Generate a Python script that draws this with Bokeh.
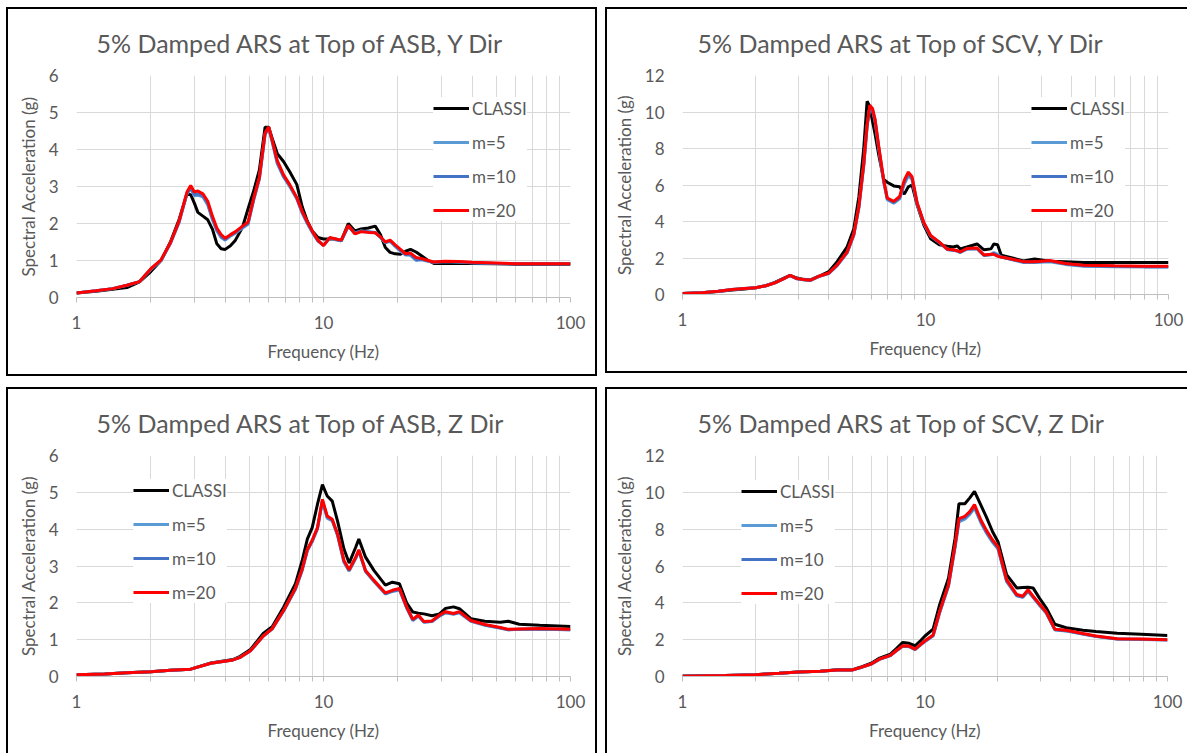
from bokeh.plotting import figure
from bokeh.models import Range1d, FixedTicker, Legend, LegendItem, PrintfTickFormatter
from bokeh.layouts import row, column
from bokeh.embed import file_html
from bokeh.resources import INLINE

# ---------------- data ----------------
series_names = ["CLASSI", "m=5", "m=10", "m=20"]

# Panel 1: ASB, Y Dir
f1 = [1.0, 1.2, 1.4, 1.6, 1.8, 2.0, 2.2, 2.4, 2.6, 2.8, 2.9, 3.0, 3.1, 3.25, 3.4, 3.55, 3.7, 3.85, 4.0, 4.2,
      4.4, 4.7, 4.95, 5.2, 5.5, 5.8, 6.0, 6.2, 6.5, 6.9, 7.3, 7.8, 8.2, 8.6, 9.0, 9.5, 10.0, 10.6, 11.2, 11.8,
      12.6, 13.4, 14.2, 15.2, 16.2, 17.0, 17.8, 18.6, 19.5, 20.5, 21.5, 22.5, 23.7, 25.0, 26.5, 28.0, 31.0,
      35.0, 40.0, 50.0, 60.0, 80.0, 100.0]
classi1 = [0.12, 0.17, 0.22, 0.27, 0.42, 0.70, 1.00, 1.50, 2.10, 2.80, 2.78, 2.55, 2.30, 2.20, 2.10, 1.85, 1.45,
           1.32, 1.30, 1.40, 1.55, 1.90, 2.40, 2.85, 3.45, 4.60, 4.60, 4.30, 3.89, 3.67, 3.40, 3.05, 2.45, 2.06,
           1.80, 1.62, 1.58, 1.58, 1.58, 1.53, 2.00, 1.80, 1.85, 1.88, 1.93, 1.70, 1.35, 1.22, 1.18, 1.17, 1.25,
           1.30, 1.23, 1.12, 1.00, 0.92, 0.92, 0.92, 0.92, 0.91, 0.90, 0.90, 0.90]
m5_1 = [0.12, 0.18, 0.24, 0.33, 0.43, 0.76, 1.00, 1.46, 2.02, 2.80, 2.95, 2.75, 2.76, 2.72, 2.50, 2.10, 1.80, 1.62,
        1.55, 1.66, 1.74, 1.88, 1.98, 2.60, 3.20, 4.40, 4.58, 4.20, 3.62, 3.25, 3.00, 2.66, 2.28, 2.00, 1.76, 1.52,
        1.42, 1.60, 1.56, 1.53, 1.92, 1.74, 1.80, 1.78, 1.76, 1.62, 1.48, 1.52, 1.38, 1.25, 1.15, 1.14, 1.00, 1.02,
        0.98, 0.95, 0.97, 0.96, 0.94, 0.92, 0.91, 0.91, 0.91]
m10_1 = [0.12, 0.18, 0.24, 0.33, 0.43, 0.77, 1.01, 1.47, 2.04, 2.82, 2.98, 2.78, 2.80, 2.75, 2.54, 2.14, 1.83, 1.65,
         1.57, 1.68, 1.76, 1.90, 2.00, 2.62, 3.22, 4.42, 4.60, 4.22, 3.65, 3.27, 3.02, 2.68, 2.30, 2.02, 1.78, 1.53,
         1.41, 1.61, 1.57, 1.54, 1.93, 1.73, 1.79, 1.77, 1.75, 1.63, 1.49, 1.53, 1.40, 1.27, 1.16, 1.16, 1.03, 1.03,
         0.99, 0.95, 0.97, 0.96, 0.94, 0.92, 0.91, 0.91, 0.91]
m20_1 = [0.12, 0.18, 0.24, 0.33, 0.43, 0.78, 1.02, 1.48, 2.06, 2.85, 3.03, 2.85, 2.88, 2.80, 2.60, 2.20, 1.88, 1.70,
         1.60, 1.70, 1.78, 1.93, 2.04, 2.65, 3.25, 4.45, 4.61, 4.25, 3.70, 3.31, 3.05, 2.70, 2.33, 2.05, 1.80, 1.55,
         1.40, 1.62, 1.58, 1.55, 1.95, 1.72, 1.78, 1.76, 1.75, 1.64, 1.50, 1.55, 1.42, 1.30, 1.18, 1.20, 1.08, 1.05,
         1.00, 0.96, 0.98, 0.97, 0.95, 0.93, 0.91, 0.91, 0.91]

# Panel 2: SCV, Y Dir
f2 = [1.0, 1.2, 1.4, 1.6, 1.8, 2.0, 2.2, 2.4, 2.6, 2.77, 2.96, 3.15, 3.36, 3.64, 4.0, 4.33, 4.76, 5.07, 5.32, 5.57,
      5.75, 5.9, 6.05, 6.2, 6.43, 6.73, 6.96, 7.4, 7.83, 8.18, 8.5, 8.8, 9.24, 9.84, 10.5, 11.4, 12.3, 13.0, 13.5,
      13.9, 14.8, 16.3, 17.4, 18.6, 19.1, 19.8, 20.5, 22.8, 25.3, 28.1, 32.5, 37.6, 44.8, 60.0, 80.0, 100.0]
classi2 = [0.05, 0.10, 0.17, 0.25, 0.30, 0.37, 0.48, 0.66, 0.88, 1.05, 0.90, 0.83, 0.80, 1.00, 1.25, 1.80, 2.61,
           3.60, 5.36, 8.00, 10.59, 10.30, 9.50, 8.80, 7.60, 6.30, 6.15, 5.95, 5.90, 5.50, 5.90, 6.00, 4.90, 3.80,
           3.05, 2.72, 2.65, 2.60, 2.66, 2.50, 2.60, 2.77, 2.45, 2.50, 2.77, 2.73, 2.15, 2.00, 1.84, 1.95, 1.82,
           1.80, 1.75, 1.75, 1.75, 1.75]
m5_2 = [0.05, 0.10, 0.18, 0.27, 0.33, 0.37, 0.48, 0.64, 0.85, 1.03, 0.86, 0.81, 0.77, 0.98, 1.15, 1.58, 2.28, 3.25,
        4.75, 7.05, 9.20, 10.25, 10.10, 9.50, 7.95, 6.15, 5.20, 5.00, 5.25, 6.05, 6.50, 6.30, 4.95, 3.90, 3.20, 2.85,
        2.46, 2.42, 2.38, 2.30, 2.48, 2.50, 2.14, 2.18, 2.30, 2.20, 2.05, 1.90, 1.75, 1.75, 1.80, 1.65, 1.55, 1.52,
        1.50, 1.50]
m10_2 = [0.05, 0.10, 0.18, 0.27, 0.33, 0.37, 0.48, 0.64, 0.85, 1.04, 0.86, 0.81, 0.77, 0.99, 1.16, 1.60, 2.30, 3.28,
         4.80, 7.10, 9.25, 10.30, 10.15, 9.55, 8.00, 6.20, 5.25, 5.05, 5.30, 6.15, 6.60, 6.38, 5.00, 3.92, 3.21, 2.86,
         2.47, 2.43, 2.39, 2.32, 2.50, 2.52, 2.15, 2.19, 2.25, 2.15, 2.05, 1.92, 1.78, 1.78, 1.83, 1.68, 1.58, 1.55,
         1.53, 1.53]
m20_2 = [0.05, 0.10, 0.18, 0.27, 0.33, 0.37, 0.48, 0.64, 0.85, 1.05, 0.87, 0.82, 0.78, 1.00, 1.18, 1.62, 2.34, 3.32,
         4.84, 7.16, 9.30, 10.37, 10.20, 9.60, 8.05, 6.27, 5.29, 5.10, 5.37, 6.27, 6.71, 6.45, 5.02, 3.95, 3.23, 2.87,
         2.48, 2.45, 2.40, 2.34, 2.52, 2.55, 2.16, 2.20, 2.20, 2.10, 2.05, 1.93, 1.80, 1.80, 1.86, 1.70, 1.60, 1.57,
         1.55, 1.55]

# Panel 3: ASB, Z Dir
f3 = [1.0, 1.3, 1.6, 2.0, 2.4, 2.9, 3.5, 4.3, 4.6, 5.06, 5.7, 6.2, 6.9, 7.7, 8.2, 8.6, 9.0, 9.45, 9.9, 10.35, 10.85,
      11.4, 12.1, 12.7, 13.5, 13.9, 14.8, 16.0, 17.8, 19.0, 20.3, 21.7, 23.0, 24.2, 25.5, 27.5, 29.5, 31.2, 33.6,
      35.5, 39.5, 45.0, 52.0, 56.0, 62.0, 75.0, 100.0]
classi3 = [0.05, 0.07, 0.10, 0.13, 0.17, 0.20, 0.37, 0.46, 0.55, 0.73, 1.17, 1.35, 1.89, 2.52, 3.15, 3.73, 4.04,
           4.67, 5.21, 4.90, 4.76, 4.22, 3.46, 3.08, 3.51, 3.73, 3.24, 2.88, 2.48, 2.56, 2.52, 2.00, 1.75, 1.72,
           1.70, 1.65, 1.70, 1.85, 1.89, 1.84, 1.57, 1.50, 1.47, 1.50, 1.42, 1.39, 1.36]
m5_3 = [0.05, 0.07, 0.10, 0.13, 0.17, 0.20, 0.36, 0.45, 0.52, 0.69, 1.09, 1.29, 1.78, 2.37, 2.88, 3.41, 3.66, 4.00,
        4.75, 4.30, 4.22, 3.83, 3.10, 2.86, 3.20, 3.40, 2.85, 2.58, 2.24, 2.31, 2.35, 1.86, 1.52, 1.64, 1.47, 1.49,
        1.64, 1.73, 1.69, 1.73, 1.50, 1.39, 1.31, 1.27, 1.28, 1.28, 1.27]
m10_3 = [0.05, 0.07, 0.10, 0.13, 0.17, 0.20, 0.36, 0.45, 0.52, 0.70, 1.10, 1.30, 1.79, 2.38, 2.90, 3.43, 3.68, 4.02,
         4.78, 4.33, 4.25, 3.85, 3.12, 2.88, 3.22, 3.42, 2.86, 2.60, 2.25, 2.32, 2.37, 1.88, 1.53, 1.65, 1.48, 1.50,
         1.65, 1.74, 1.70, 1.74, 1.51, 1.40, 1.32, 1.27, 1.28, 1.29, 1.27]
m20_3 = [0.05, 0.07, 0.10, 0.13, 0.17, 0.20, 0.36, 0.45, 0.52, 0.70, 1.10, 1.30, 1.80, 2.40, 2.92, 3.45, 3.70, 4.04,
         4.81, 4.36, 4.27, 3.87, 3.15, 2.90, 3.24, 3.44, 2.88, 2.61, 2.27, 2.34, 2.39, 1.89, 1.55, 1.67, 1.49, 1.51,
         1.67, 1.76, 1.71, 1.76, 1.52, 1.41, 1.33, 1.28, 1.29, 1.30, 1.28]

# Panel 4: SCV, Z Dir
f4 = [1.0, 1.5, 2.0, 2.5, 3.0, 3.7, 4.33, 5.0, 5.4, 6.0, 6.5, 7.2, 7.6, 8.1, 8.6, 9.1, 9.6, 10.0, 10.8, 11.5, 12.5,
      13.3, 13.8, 14.6, 15.3, 16.0, 17.0, 17.9, 19.0, 20.0, 21.7, 23.9, 25.3, 26.6, 27.9, 29.6, 31.6, 34.3, 38.2,
      44.8, 50.7, 62.0, 78.0, 100.0]
classi4 = [0.03, 0.06, 0.10, 0.18, 0.25, 0.29, 0.36, 0.36, 0.50, 0.72, 1.00, 1.22, 1.50, 1.85, 1.80, 1.67, 1.95,
           2.20, 2.57, 3.91, 5.34, 7.50, 9.38, 9.38, 9.70, 10.05, 9.30, 8.67, 7.86, 7.32, 5.53, 4.81, 4.83, 4.84,
           4.81, 4.27, 3.73, 2.84, 2.65, 2.51, 2.44, 2.35, 2.30, 2.22]
m5_4 = [0.02, 0.06, 0.10, 0.17, 0.24, 0.28, 0.35, 0.35, 0.47, 0.67, 0.93, 1.13, 1.38, 1.64, 1.62, 1.46, 1.72, 1.90,
        2.20, 3.48, 4.90, 7.00, 8.40, 8.55, 8.80, 9.15, 8.35, 7.80, 7.28, 6.92, 5.15, 4.38, 4.30, 4.62, 4.30, 3.88,
        3.45, 2.53, 2.47, 2.30, 2.17, 2.03, 2.01, 1.98]
m10_4 = [0.02, 0.06, 0.10, 0.17, 0.24, 0.28, 0.35, 0.35, 0.47, 0.67, 0.94, 1.14, 1.39, 1.65, 1.63, 1.47, 1.73, 1.92,
         2.22, 3.50, 4.94, 7.05, 8.48, 8.62, 8.87, 9.22, 8.42, 7.86, 7.33, 6.98, 5.20, 4.40, 4.32, 4.66, 4.32, 3.90,
         3.48, 2.55, 2.49, 2.31, 2.18, 2.04, 2.02, 1.99]
m20_4 = [0.02, 0.06, 0.10, 0.17, 0.24, 0.28, 0.35, 0.35, 0.48, 0.68, 0.95, 1.15, 1.40, 1.67, 1.65, 1.49, 1.75, 1.94,
         2.25, 3.55, 4.99, 7.14, 8.57, 8.70, 8.95, 9.33, 8.50, 7.95, 7.41, 7.05, 5.26, 4.45, 4.36, 4.72, 4.36, 3.95,
         3.50, 2.57, 2.51, 2.33, 2.20, 2.05, 2.03, 2.00]

x_major_ticks = [1, 10, 100]
x_minor_ticks = [2, 3, 4, 5, 6, 7, 8, 9, 20, 30, 40, 50, 60, 70, 80, 90]

# ---------------- styling ----------------
FONT = "Lato"
TXT = "#595959"
GRID = "#D9D9D9"
AXIS = "#BFBFBF"
COLORS = ["#000000", "#5B9BD5", "#4472C4", "#FF0000"]


def make_panel(title, freq, ys, ymax, ystep, width, height, borders, title_offset, legend_loc, shadow):
    l, r, t, b = borders
    p = figure(width=width, height=height, x_axis_type="log",
               x_range=Range1d(1, 100), y_range=Range1d(0, ymax),
               output_backend="svg", toolbar_location=None,
               min_border_left=l, min_border_right=r, min_border_top=t, min_border_bottom=b,
               border_fill_color=None, background_fill_color="white", outline_line_color=None,
               styles={"box-shadow": shadow})

    p.title.text = title
    p.title.align = "left"
    p.title.offset = title_offset
    p.title.text_font = FONT
    p.title.text_font_size = "25px"
    p.title.text_font_style = "normal"
    p.title.text_color = TXT
    p.title.standoff = 36

    xt = FixedTicker(ticks=x_major_ticks, minor_ticks=x_minor_ticks)
    p.xaxis.ticker = xt
    p.xgrid.ticker = xt
    p.xaxis.formatter = PrintfTickFormatter(format="%d")
    p.xgrid.grid_line_color = GRID
    p.xgrid.minor_grid_line_color = GRID
    p.xaxis.axis_line_color = AXIS
    p.xaxis.major_tick_line_color = AXIS
    p.xaxis.minor_tick_line_color = AXIS
    p.xaxis.major_tick_in = 0
    p.xaxis.major_tick_out = 5
    p.xaxis.minor_tick_in = 0
    p.xaxis.minor_tick_out = 5
    p.xaxis.major_label_standoff = 13

    yt = FixedTicker(ticks=list(range(0, ymax + 1, ystep)), minor_ticks=[])
    p.yaxis.ticker = yt
    p.ygrid.ticker = yt
    p.ygrid.grid_line_color = GRID
    p.yaxis.axis_line_color = None
    p.yaxis.major_tick_line_color = None
    p.yaxis.minor_tick_line_color = None
    p.yaxis.major_tick_in = 0
    p.yaxis.major_tick_out = 0
    p.yaxis.major_label_standoff = 18

    for ax in (p.xaxis[0], p.yaxis[0]):
        ax.major_label_text_font = FONT
        ax.major_label_text_font_size = "17px"
        ax.major_label_text_color = TXT
        ax.axis_label_text_font = FONT
        ax.axis_label_text_font_size = "17px"
        ax.axis_label_text_font_style = "normal"
        ax.axis_label_text_color = TXT
    p.xaxis.axis_label = "Frequency (Hz)"
    p.xaxis.axis_label_standoff = 9
    p.yaxis.axis_label = "Spectral Acceleration (g)"
    p.yaxis.axis_label_standoff = 7

    items = []
    for name, y, c in zip(series_names, ys, COLORS):
        rnd = p.line(freq, y, line_color=c, line_width=3)
        items.append(LegendItem(label=name, renderers=[rnd]))
    leg = Legend(items=items, location=legend_loc,
                 label_text_font=FONT, label_text_font_size="17px", label_text_color=TXT,
                 glyph_width=36, glyph_height=22, label_height=22, label_standoff=3,
                 spacing=12, padding=5, margin=0,
                 border_line_color=None, background_fill_color="white", background_fill_alpha=1.0)
    p.add_layout(leg)
    return p


SH_ALL = "inset 0 0 0 2px #000"
SH_LTB = "inset 2px 0 0 0 #000, inset 0 2px 0 0 #000, inset 0 -2px 0 0 #000"
SH_LTR = "inset 2px 0 0 0 #000, inset 0 2px 0 0 #000, inset -2px 0 0 0 #000"
SH_LT = "inset 2px 0 0 0 #000, inset 0 2px 0 0 #000"

p1 = make_panel("5% Damped ARS at Top of ASB, Y Dir", f1, [classi1, m5_1, m10_1, m20_1], 6, 1,
                591, 369, (70, 27, 66, 79), 20, (357, 76), SH_ALL)
p2 = make_panel("5% Damped ARS at Top of SCV, Y Dir", f2, [classi2, m5_2, m10_2, m20_2], 12, 2,
                582, 366, (77, 19, 66, 76), 15, (349, 73), SH_LTB)
p3 = make_panel("5% Damped ARS at Top of ASB, Z Dir", f3, [classi3, m5_3, m10_3, m20_3], 6, 1,
                591, 366, (70, 27, 67, 76), 20, (57, 73), SH_LTR)
p4 = make_panel("5% Damped ARS at Top of SCV, Z Dir", f4, [classi4, m5_4, m10_4, m20_4], 12, 2,
                582, 366, (77, 20, 66, 77), 15, (59, 72), SH_LT)

page = column(row(p1, p2, spacing=8), row(p3, p4, spacing=8), spacing=11, margin=(7, 0, 0, 6))

open("out.html", "w").write(file_html(page, INLINE))
